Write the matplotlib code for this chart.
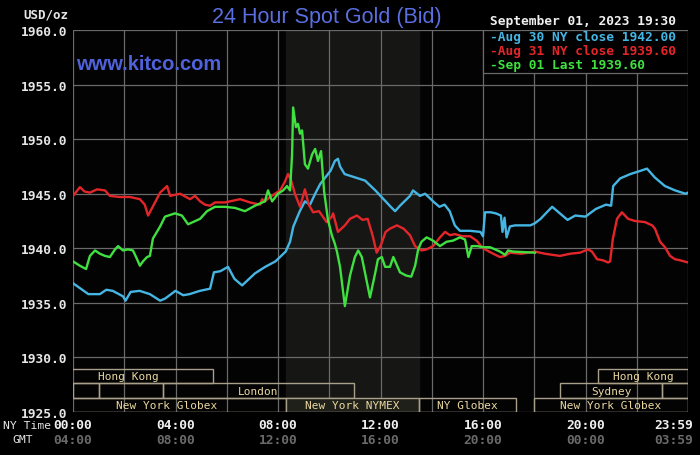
import matplotlib
matplotlib.use("Agg")
import matplotlib.pyplot as plt
import matplotlib.transforms as mtransforms
from matplotlib.patches import Rectangle

# ---- data (hours after NY midnight, USD/oz) ----
aug30 = [(0.0, 1936.8), (0.3, 1936.3), (0.6, 1935.8), (1.05, 1935.8), (1.3, 1936.2),
         (1.55, 1936.1), (1.95, 1935.6), (2.05, 1935.2), (2.25, 1936.0), (2.6, 1936.1),
         (3.0, 1935.8), (3.4, 1935.2), (3.6, 1935.4), (4.0, 1936.1), (4.3, 1935.7),
         (4.55, 1935.8), (4.95, 1936.1), (5.35, 1936.3), (5.5, 1937.8), (5.75, 1937.9),
         (6.05, 1938.3), (6.3, 1937.2), (6.6, 1936.6), (7.1, 1937.7), (7.5, 1938.3),
         (7.9, 1938.8), (8.3, 1939.7), (8.47, 1940.6), (8.6, 1942.0), (8.85, 1943.4),
         (9.05, 1944.3), (9.25, 1944.0), (9.45, 1945.0), (9.65, 1945.9), (9.85, 1946.5),
         (10.05, 1947.1), (10.22, 1948.0), (10.34, 1948.2), (10.42, 1947.5), (10.6, 1946.8),
         (11.0, 1946.5), (11.4, 1946.2), (11.8, 1945.3), (12.0, 1944.8), (12.2, 1944.3),
         (12.4, 1943.8), (12.57, 1943.4), (12.76, 1943.9), (13.15, 1944.8), (13.27, 1945.3),
         (13.54, 1944.8), (13.74, 1945.0), (14.1, 1944.2), (14.3, 1943.8), (14.5, 1944.0),
         (14.7, 1943.4), (14.9, 1942.1), (15.1, 1941.6), (15.5, 1941.6), (15.9, 1941.5),
         (16.0, 1941.1), (16.08, 1943.3), (16.3, 1943.3), (16.5, 1943.2), (16.7, 1943.0),
         (16.76, 1941.5), (16.84, 1942.8), (16.92, 1941.0), (17.05, 1942.0), (17.25, 1942.1),
         (17.85, 1942.1), (18.03, 1942.3), (18.25, 1942.7), (18.45, 1943.2), (18.7, 1943.8),
         (19.0, 1943.2), (19.3, 1942.6), (19.6, 1943.0), (20.0, 1942.9), (20.4, 1943.6),
         (20.8, 1944.0), (21.0, 1943.9), (21.08, 1945.7), (21.35, 1946.4), (21.75, 1946.8),
         (22.15, 1947.1), (22.4, 1947.3), (22.7, 1946.5), (23.1, 1945.7), (23.5, 1945.3),
         (23.9, 1945.0), (24.0, 1945.1)]

aug31 = [(0.0, 1944.8), (0.27, 1945.6), (0.45, 1945.2), (0.66, 1945.1), (0.94, 1945.4),
         (1.25, 1945.3), (1.44, 1944.8), (1.83, 1944.7), (2.22, 1944.7), (2.61, 1944.5),
         (2.8, 1944.0), (2.93, 1943.0), (3.2, 1944.2), (3.4, 1945.1), (3.67, 1945.7),
         (3.79, 1944.8), (4.18, 1945.0), (4.57, 1944.5), (4.76, 1944.8), (4.96, 1944.3),
         (5.15, 1944.0), (5.35, 1943.9), (5.54, 1944.2), (5.93, 1944.2), (6.52, 1944.5),
         (6.91, 1944.2), (7.3, 1944.0), (7.38, 1944.5), (7.49, 1944.3), (7.69, 1944.7),
         (8.08, 1945.3), (8.27, 1946.1), (8.39, 1946.8), (8.5, 1946.3), (8.66, 1945.0),
         (8.86, 1943.8), (9.05, 1945.4), (9.2, 1944.0), (9.37, 1943.3), (9.6, 1943.4),
         (9.9, 1942.4), (10.1, 1942.9), (10.15, 1943.2), (10.34, 1941.5), (10.61, 1942.1),
         (10.81, 1942.7), (11.08, 1943.0), (11.3, 1942.6), (11.5, 1942.7), (11.7, 1941.1),
         (11.85, 1939.6), (12.0, 1940.2), (12.2, 1941.5), (12.37, 1941.8), (12.64, 1942.1),
         (12.9, 1941.8), (13.15, 1941.2), (13.35, 1940.2), (13.6, 1939.8), (13.8, 1939.9),
         (14.05, 1940.2), (14.32, 1941.0), (14.52, 1941.5), (14.71, 1941.2), (14.9, 1941.3),
         (15.2, 1941.1), (15.5, 1941.1), (15.75, 1940.7), (16.0, 1940.0), (16.4, 1939.5),
         (16.66, 1939.2), (16.86, 1939.3), (17.05, 1939.6), (17.5, 1939.5), (18.03, 1939.7),
         (18.42, 1939.5), (19.0, 1939.3), (19.4, 1939.5), (19.79, 1939.6), (20.1, 1939.9),
         (20.25, 1939.7), (20.45, 1939.0), (20.68, 1938.9), (20.88, 1938.7), (20.96, 1938.8),
         (21.07, 1940.9), (21.23, 1942.7), (21.42, 1943.3), (21.66, 1942.7), (21.93, 1942.5),
         (22.32, 1942.4), (22.6, 1942.1), (22.71, 1941.8), (22.91, 1940.6), (23.1, 1940.1),
         (23.3, 1939.3), (23.49, 1939.0), (23.69, 1938.9), (24.0, 1938.7)]

sep01 = [(0.0, 1938.8), (0.27, 1938.4), (0.51, 1938.1), (0.66, 1939.3), (0.86, 1939.8),
         (1.05, 1939.5), (1.25, 1939.3), (1.44, 1939.2), (1.64, 1939.9), (1.76, 1940.2),
         (1.95, 1939.8), (2.15, 1939.9), (2.34, 1939.8), (2.5, 1939.0), (2.61, 1938.4),
         (2.73, 1938.8), (2.89, 1939.2), (3.0, 1939.3), (3.12, 1940.9), (3.4, 1942.0),
         (3.59, 1942.9), (3.98, 1943.2), (4.25, 1943.0), (4.49, 1942.2), (4.68, 1942.4),
         (4.96, 1942.7), (5.23, 1943.4), (5.54, 1943.8), (5.93, 1943.8), (6.32, 1943.7),
         (6.71, 1943.4), (7.1, 1943.9), (7.49, 1944.3), (7.61, 1945.3), (7.77, 1944.3),
         (8.0, 1945.0), (8.2, 1945.3), (8.35, 1945.7), (8.47, 1945.3), (8.55, 1948.6),
         (8.59, 1952.9), (8.7, 1951.1), (8.78, 1951.4), (8.86, 1950.5), (8.94, 1950.8),
         (9.05, 1947.7), (9.17, 1947.3), (9.33, 1948.6), (9.45, 1949.1), (9.56, 1948.0),
         (9.68, 1948.9), (9.8, 1945.2), (9.95, 1942.6), (10.1, 1941.2), (10.22, 1940.4),
         (10.3, 1939.7), (10.42, 1938.3), (10.61, 1934.7), (10.81, 1937.5), (11.0, 1939.2),
         (11.13, 1939.8), (11.27, 1939.2), (11.4, 1937.7), (11.59, 1935.5), (11.79, 1937.7),
         (11.9, 1939.0), (12.05, 1939.2), (12.18, 1938.3), (12.37, 1938.3), (12.5, 1939.2),
         (12.76, 1937.8), (13.0, 1937.5), (13.2, 1937.4), (13.35, 1938.4), (13.47, 1939.9),
         (13.6, 1940.6), (13.8, 1941.0), (14.05, 1940.7), (14.32, 1940.2), (14.58, 1940.6),
         (14.83, 1940.7), (15.1, 1941.0), (15.3, 1940.8), (15.43, 1939.2), (15.56, 1940.2),
         (15.77, 1940.2), (16.0, 1940.1), (16.27, 1940.1), (16.47, 1939.9), (16.66, 1939.7),
         (16.86, 1939.4), (16.98, 1939.8), (17.17, 1939.7), (18.03, 1939.6)]

series_colors = ["#45b6e4", "#e4262a", "#3fe03f"]
legend_text = ["-Aug 30 NY close 1942.00", "-Aug 31 NY close 1939.60", "-Sep 01 Last 1939.60"]
stamp = "September 01, 2023 19:30"

y_ticks = [1925, 1930, 1935, 1940, 1945, 1950, 1955, 1960]
tick_hours = [0, 4, 8, 12, 16, 20, 24]
ny_labels = ["00:00", "04:00", "08:00", "12:00", "16:00", "20:00", "23:59"]
gmt_labels = ["04:00", "08:00", "12:00", "16:00", "20:00", "00:00", "03:59"]

# (row, start hour, end hour, label); row 0 is the top row
sessions = [
    (0, -1.17, 5.47, "Hong Kong"),
    (0, 20.5, 24.0, "Hong Kong"),
    (1, 0.0, 1.0, ""),
    (1, 1.0, 3.5, ""),
    (1, 3.5, 10.95, "London"),
    (1, 19.0, 23.0, "Sydney"),
    (1, 23.0, 24.0, ""),
    (2, -1.0, 8.3, "New York Globex"),
    (2, 8.33, 13.5, "New York NYMEX"),
    (2, 13.5, 17.3, "NY Globex"),
    (2, 18.0, 24.0, "New York Globex"),
]
pit_start, pit_end = 8.33, 13.5

MONO = "DejaVu Sans Mono"
GRID = "#6a6a6a"

fig = plt.figure(figsize=(7, 4.56), dpi=100, facecolor="black")
ax = fig.add_axes([73 / 700, 43 / 456, 615 / 700, 382 / 456])
ax.set_facecolor("#030303")
ax.set_xlim(0, 24)
ax.set_ylim(1925, 1960)
for s in ax.spines.values():
    s.set_visible(False)
ax.set_xticks([])
ax.set_yticks(y_ticks)
ax.set_yticklabels(["%.1f" % v for v in y_ticks], family=MONO, fontweight="bold",
                   fontsize=9.3, color="#e6e6e6")
ax.tick_params(axis="y", length=0, pad=4)

# NY pit session shading
ax.axvspan(pit_start, pit_end, color="#161615", zorder=0)

# grid
for h in range(0, 25, 2):
    ax.axvline(h, color=GRID, lw=0.9, zorder=1)
for v in y_ticks:
    ax.axhline(v, color=GRID, lw=0.9, zorder=1)

# price lines
for data, c in zip([aug30, aug31, sep01], series_colors):
    t = [p[0] for p in data]
    v = [p[1] for p in data]
    ax.plot(t, v, color=c, lw=1.7, zorder=4)

# session boxes at bottom
row_h = 1.31
for row, a, b, label in sessions:
    y0 = 1925 + (2 - row) * row_h
    fc = "#20201a" if label == "New York NYMEX" else "none"
    ax.add_patch(Rectangle((a, y0), b - a, row_h, facecolor=fc, edgecolor="#a8a088",
                           lw=1.0, zorder=3))
    if label:
        ax.text((a + b) / 2, y0 + row_h / 2, label, family=MONO, fontsize=8,
                color="#ead8a0", ha="center", va="center", zorder=5)

# legend box in upper right
ax.add_patch(Rectangle((16.0, 1956.06), 8.0, 3.94, facecolor="black", edgecolor=GRID,
                       lw=0.9, zorder=2))
fig.text(490 / 700, 1 - 22 / 456, stamp, family=MONO, fontweight="bold", fontsize=9.3,
         color="#f0f0f0", va="center")
for i, (txt, c) in enumerate(zip(legend_text, series_colors)):
    fig.text(490 / 700, 1 - (37.5 + 13.8 * i) / 456, txt, family=MONO, fontweight="bold",
             fontsize=9.3, color=c, va="center")

# titles
fig.text(327 / 700, 1 - 17 / 456, "24 Hour Spot Gold (Bid)", family="Liberation Sans",
         fontsize=15.5, color="#5a6ee0", ha="center", va="center")
ax.text(0.12, 1956.9, "www.kitco.com", family="Liberation Sans", fontweight="bold",
        fontsize=14.5, color="#4f62dc", ha="left", va="center", zorder=5)
fig.text(68 / 700, 1 - 15 / 456, "USD/oz", family=MONO, fontweight="bold", fontsize=9,
         color="#e6e6e6", ha="right", va="center")

# time axis labels
tr = mtransforms.blended_transform_factory(ax.transData, fig.transFigure)
for h, ny, gmt in zip(tick_hours, ny_labels, gmt_labels):
    x, ha = (h, "center") if h < 24 else (24.2, "right")
    ax.text(x, 1 - 426 / 456, ny, transform=tr, family=MONO, fontweight="bold",
            fontsize=9.3, color="#f0f0f0", ha=ha, va="center", clip_on=False)
    ax.text(x, 1 - 441 / 456, gmt, transform=tr, family=MONO, fontweight="bold",
            fontsize=9.3, color="#6a6a6a", ha=ha, va="center", clip_on=False)
fig.text(3 / 700, 1 - 426 / 456, "NY Time", family=MONO, fontsize=8.2, color="#e6e6e6",
         va="center")
fig.text(12 / 700, 1 - 440 / 456, "GMT", family=MONO, fontsize=8.2, color="#e6e6e6",
         va="center")

fig.savefig("out.png", dpi=100, facecolor="black")
